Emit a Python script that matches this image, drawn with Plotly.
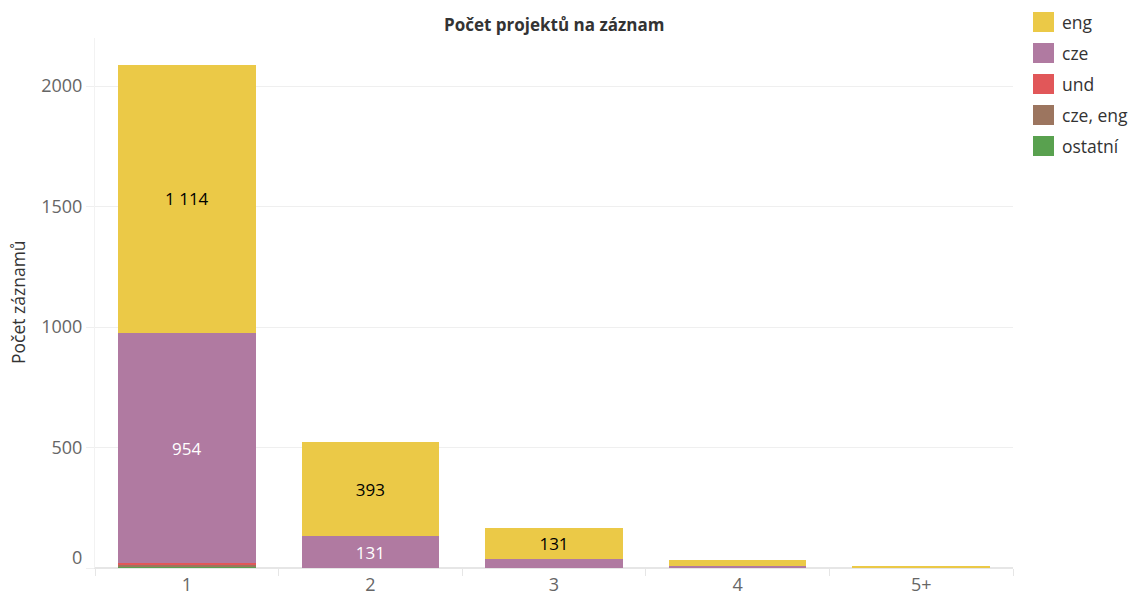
import plotly.graph_objects as go

categories = ["1", "2", "3", "4", "5+"]
series_names = ["ostatní", "cze, eng", "und", "cze", "eng"]
ostatni = [8, 0, 0, 0, 0]
cze_eng = [3, 0, 0, 0, 0]
und = [10, 0, 0, 0, 0]
cze = [954, 131, 36, 10, 4]
eng = [1114, 393, 131, 23, 6]
labels_cze = ["954", "131", "", "", ""]
labels_eng = ["1 114", "393", "131", "", ""]
colors = {"eng": "#EBC947", "cze": "#B07AA1", "und": "#E15759",
          "cze, eng": "#9C755F", "ostatní": "#59A14F"}
legend_order = ["eng", "cze", "und", "cze, eng", "ostatní"]
y_ticks = [0, 500, 1000, 1500, 2000]

values = {"ostatní": ostatni, "cze, eng": cze_eng, "und": und, "cze": cze, "eng": eng}
texts = {"cze": labels_cze, "eng": labels_eng}
text_colors = {"cze": "white", "eng": "black"}

FONT = "'Open Sans', sans-serif"
fig = go.Figure()
for name in series_names:
    fig.add_trace(go.Bar(
        x=categories, y=values[name], name=name,
        marker=dict(color=colors[name], line=dict(width=0)),
        text=texts.get(name), textposition="inside" if name in texts else "none",
        insidetextanchor="middle", textangle=0,
        textfont=dict(family=FONT, size=17, color=text_colors.get(name, "black")),
        hoverinfo="x+y+name", showlegend=False,
    ))

W, H = 1131, 594
L, R, T, B = 95, 118, 38, 26
pw, ph = W - L - R, H - T - B

def px(x):
    return (x - L) / pw

def py(y):
    return (H - B - y) / ph

shapes, annotations = [], []
for i, name in enumerate(legend_order):
    cy = 22 + i * 31
    shapes.append(dict(type="rect", xref="paper", yref="paper",
                       x0=px(1033), x1=px(1054), y0=py(cy + 10), y1=py(cy - 10),
                       fillcolor=colors[name], line=dict(width=0)))
    annotations.append(dict(xref="paper", yref="paper", x=px(1060), y=py(cy),
                            text=name, showarrow=False, xanchor="left", yanchor="middle",
                            font=dict(family=FONT, size=17.5, color="#333")))

annotations.append(dict(xref="paper", yref="paper", x=0.5, y=py(25),
                        text="<b>Počet projektů na záznam</b>", showarrow=False,
                        xanchor="center", yanchor="middle",
                        font=dict(family=FONT, size=17, color="#333")))
annotations.append(dict(xref="paper", yref="paper", x=px(18), y=py(302),
                        text="Počet záznamů", showarrow=False, textangle=-90,
                        xanchor="center", yanchor="middle",
                        font=dict(family=FONT, size=17.5, color="#333")))
# the zero tick label sits slightly above its gridline in the original
annotations.append(dict(xref="paper", yref="y", x=px(84), y=y_ticks[0], yshift=11,
                        text=str(y_ticks[0]), showarrow=False, xanchor="right",
                        yanchor="middle", font=dict(family=FONT, size=18, color="#666")))

fig.update_layout(
    width=W, height=H, barmode="stack", bargap=0.25,
    margin=dict(l=L, r=R, t=T, b=B),
    plot_bgcolor="white", paper_bgcolor="white",
    font=dict(family=FONT, color="#666"),
    shapes=shapes, annotations=annotations, showlegend=False,
    xaxis=dict(type="category", tickson="boundaries", ticks="outside", ticklen=7,
               tickcolor="#e6e6e6", showline=True, linecolor="#e6e6e6",
               showgrid=False, automargin=False, tickfont=dict(size=18, color="#666")),
    yaxis=dict(range=[0, 2200], tickvals=y_ticks,
               ticktext=[""] + [str(v) for v in y_ticks[1:]],
               ticks="outside", ticklen=8, tickcolor="#efefef", automargin=False,
               gridcolor="#efefef", zeroline=True, zerolinecolor="#e6e6e6",
               showline=True, linecolor="#f2f2f2",
               tickfont=dict(size=18, color="#666")),
)

fig.write_html("out.html")
